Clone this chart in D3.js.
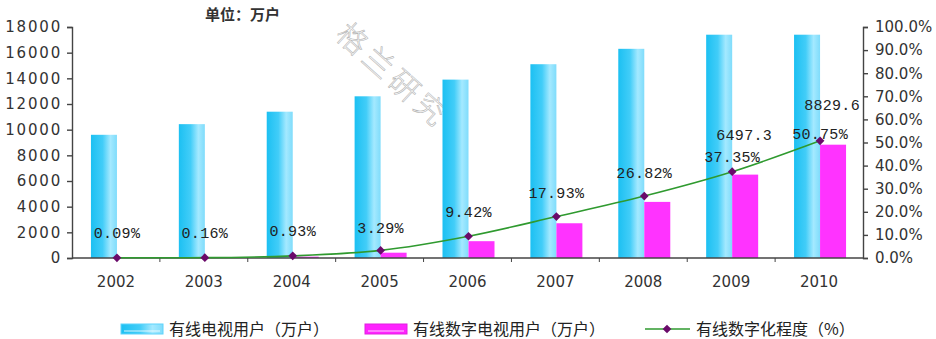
<!DOCTYPE html>
<html>
<head>
<meta charset="utf-8">
<script src="https://cdn.jsdelivr.net/npm/d3@7"></script>
<style>
  body { margin: 0; background: #fff; }
</style>
</head>
<body>
<div id="chart"></div>
<script>
// data
const years = ['2002', '2003', '2004', '2005', '2006', '2007', '2008', '2009', '2010'];
const tvUsers = [9600, 10430, 11400, 12600, 13900, 15100, 16300, 17400, 17400];
const digitalUsers = [9, 17, 106, 413, 1310, 2707, 4372, 6497.3, 8829.6];
const digitalRate = [0.09, 0.16, 0.93, 3.29, 9.42, 17.93, 26.82, 37.35, 50.75];
const leftTicks = [0, 2000, 4000, 6000, 8000, 10000, 12000, 14000, 16000, 18000];
const rightTicks = [0, 10, 20, 30, 40, 50, 60, 70, 80, 90, 100];
const seriesNames = ['有线电视用户（万户）', '有线数字电视用户（万户）', '有线数字化程度（%）'];
const shownBarLabels = ['2009', '2010'];

const width = 936, height = 339;
const plotLeft = 72, plotRight = 863, plotTop = 27, plotBottom = 258;

const svg = d3.select('#chart').append('svg')
  .attr('width', width)
  .attr('height', height)
  .attr('font-family', '"DejaVu Sans", sans-serif');

const defs = svg.append('defs');
const grad = defs.append('linearGradient').attr('id', 'blueGrad')
  .attr('x1', '0%').attr('x2', '100%').attr('y1', '0%').attr('y2', '0%');
grad.append('stop').attr('offset', '0%').attr('stop-color', '#1cc0f2');
grad.append('stop').attr('offset', '45%').attr('stop-color', '#42cdf8');
grad.append('stop').attr('offset', '75%').attr('stop-color', '#a4e9ff');
grad.append('stop').attr('offset', '100%').attr('stop-color', '#7fdcfb');

const x = d3.scaleBand().domain(years).range([plotLeft, plotRight]);
const bw = x.bandwidth();
const sub = d3.scaleBand().domain(['tv', 'digital']).range([bw / 2 - 25, bw / 2 + 27]);
const y = d3.scaleLinear().domain([0, 18000]).range([plotBottom, plotTop]);
const yR = d3.scaleLinear().domain([0, 100]).range([plotBottom, plotTop]);

// watermark
svg.append('text')
  .attr('transform', 'translate(350,19) rotate(42)')
  .attr('font-size', 30)
  .attr('font-family', '"Noto Sans CJK SC", sans-serif')
  .attr('font-weight', 300)
  .attr('letter-spacing', 5)
  .attr('fill', '#fff')
  .attr('stroke', '#b5b5b5')
  .attr('stroke-width', 0.6)
  .attr('dy', '0.8em')
  .text('格兰研究');

// bars
const g = svg.append('g');
g.selectAll('.tv').data(years).join('rect')
  .attr('class', 'tv')
  .attr('x', d => x(d) + sub('tv'))
  .attr('width', sub.bandwidth())
  .attr('y', (d, i) => y(tvUsers[i]))
  .attr('height', (d, i) => plotBottom - y(tvUsers[i]))
  .attr('fill', 'url(#blueGrad)');

g.selectAll('.dg').data(years).join('rect')
  .attr('class', 'dg')
  .attr('x', d => x(d) + sub('digital'))
  .attr('width', sub.bandwidth())
  .attr('y', (d, i) => y(digitalUsers[i]))
  .attr('height', (d, i) => plotBottom - y(digitalUsers[i]))
  .attr('fill', '#ff33ff');

// axes
const axisColor = '#444';
const yAxis = svg.append('g')
  .attr('transform', `translate(${plotLeft},0)`)
  .call(d3.axisLeft(y).tickValues(leftTicks).tickSize(5).tickPadding(5).tickFormat(d3.format('d')));
const yAxisR = svg.append('g')
  .attr('transform', `translate(${plotRight},0)`)
  .call(d3.axisRight(yR).tickValues(rightTicks).tickSize(5).tickPadding(7).tickFormat(d => d.toFixed(1) + '%'));
const xAxis = svg.append('g')
  .attr('transform', `translate(0,${plotBottom})`)
  .call(d3.axisBottom(x).tickSize(0).tickPadding(18));

[yAxis, yAxisR, xAxis].forEach(a => {
  a.attr('font-family', '"DejaVu Sans", sans-serif');
  a.selectAll('path, line').attr('stroke', axisColor).attr('stroke-width', 1.4);
  a.selectAll('text').attr('font-size', 15).attr('fill', '#333');
});
yAxis.selectAll('text').attr('letter-spacing', 1.8);
xAxis.select('.domain').attr('d', `M${plotLeft},0H${plotRight}`);

// small ticks between categories
xAxis.selectAll('.minor').data(years.slice(1)).join('line')
  .attr('class', 'minor')
  .attr('x1', d => x(d)).attr('x2', d => x(d))
  .attr('y1', 0).attr('y2', 4)
  .attr('stroke', axisColor);

// digitization line
const cx = d => x(d) + bw / 2 + 1;
const line = d3.line()
  .x((d, i) => cx(years[i]))
  .y(d => yR(d))
  .curve(d3.curveMonotoneX);
svg.append('path')
  .datum(digitalRate)
  .attr('d', line)
  .attr('fill', 'none')
  .attr('stroke', '#2f9a2f')
  .attr('stroke-width', 1.6);

const diamond = d3.symbol().type(d3.symbolSquare).size(38);
svg.selectAll('.pt').data(digitalRate).join('path')
  .attr('class', 'pt')
  .attr('transform', (d, i) => `translate(${cx(years[i])},${yR(d)}) rotate(45)`)
  .attr('d', diamond)
  .attr('fill', '#6a0a6a');

// labels
const labelLift = [25, 25, 25, 23, 24, 24, 23, 15, 7];
const mono = '"Liberation Mono", "DejaVu Sans Mono", monospace';
svg.selectAll('.pl').data(digitalRate).join('text')
  .attr('class', 'pl')
  .attr('x', (d, i) => cx(years[i]))
  .attr('y', (d, i) => yR(d) - labelLift[i])
  .attr('dy', '0.35em')
  .attr('text-anchor', 'middle')
  .attr('font-family', mono)
  .attr('font-size', 15)
  .attr('letter-spacing', 0.3)
  .attr('fill', '#222')
  .text(d => d.toFixed(2) + '%');

svg.selectAll('.bl').data(shownBarLabels).join('text')
  .attr('class', 'bl')
  .attr('x', d => x(d) + sub('digital') + sub.bandwidth() / 2 - 1)
  .attr('y', d => y(digitalUsers[years.indexOf(d)]) - 40)
  .attr('dy', '0.35em')
  .attr('text-anchor', 'middle')
  .attr('font-family', mono)
  .attr('font-size', 15)
  .attr('letter-spacing', 0.3)
  .attr('fill', '#222')
  .text(d => digitalUsers[years.indexOf(d)].toFixed(1));

// unit label
svg.append('text')
  .attr('x', 205).attr('y', 15)
  .attr('dy', '0.35em')
  .attr('font-size', 15)
  .attr('font-weight', 'bold')
  .attr('font-family', '"Noto Sans CJK SC", sans-serif')
  .attr('fill', '#333')
  .text('单位：万户');

// legend
const legendX = [121, 365, 645];
const legY = 329;
const leg = svg.append('g').attr('font-family', '"Noto Sans CJK SC", sans-serif');
leg.append('rect').attr('x', legendX[0]).attr('y', legY - 5).attr('width', 42).attr('height', 10)
  .attr('fill', 'url(#blueGrad)').attr('stroke', '#5fd3fb');
leg.append('rect').attr('x', legendX[1]).attr('y', legY - 5).attr('width', 42).attr('height', 10)
  .attr('fill', '#ff22ff').attr('stroke', '#e020e0');
leg.selectAll('.hl').data([legendX[0], legendX[1]]).join('line')
  .attr('class', 'hl')
  .attr('x1', d => d + 3).attr('x2', d => d + 39)
  .attr('y1', legY + 2).attr('y2', legY + 2)
  .attr('stroke', '#fff').attr('stroke-opacity', 0.8).attr('stroke-width', 1);
leg.append('line').attr('x1', legendX[2]).attr('x2', legendX[2] + 45).attr('y1', legY).attr('y2', legY)
  .attr('stroke', '#2f9a2f').attr('stroke-width', 1.6);
leg.append('path').attr('transform', `translate(${legendX[2] + 22},${legY}) rotate(45)`).attr('d', diamond).attr('fill', '#6a0a6a');
leg.selectAll('text').data(seriesNames).join('text')
  .attr('x', (d, i) => legendX[i] + (i === 2 ? 51 : 48))
  .attr('y', legY)
  .attr('dy', '0.35em')
  .attr('font-size', 16)
  .attr('fill', '#222')
  .text(d => d);
</script>
</body>
</html>
